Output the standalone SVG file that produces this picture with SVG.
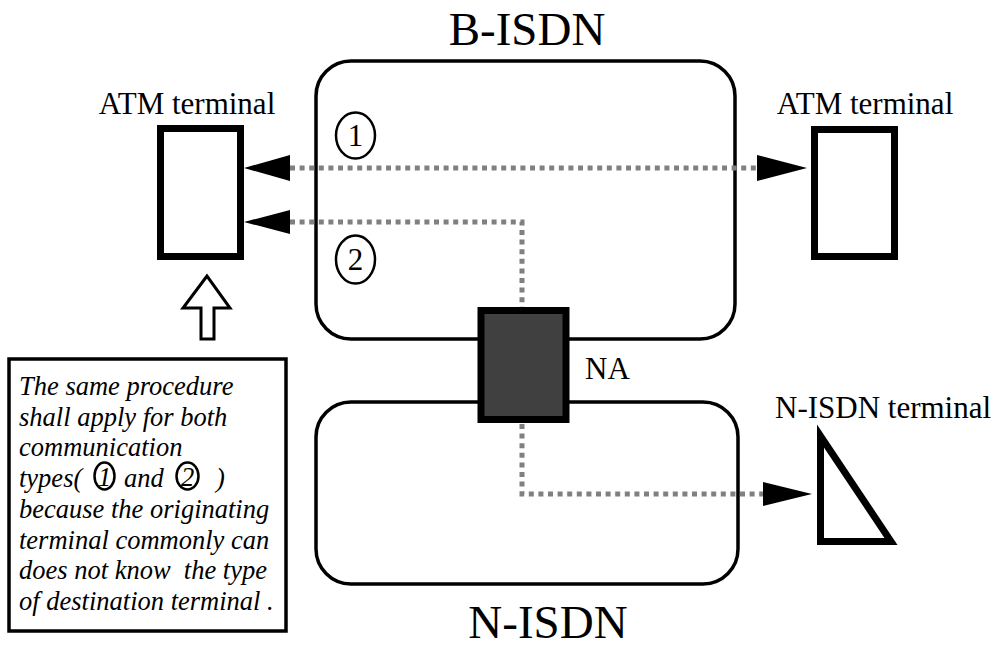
<svg xmlns="http://www.w3.org/2000/svg" width="1003" height="648" viewBox="0 0 1003 648">
<defs>
<style>
text{font-family:"Liberation Serif","Times New Roman",serif;fill:#000}
.lbl{font-size:31px}
.big{font-size:47px}
.note{font-size:26.5px;font-style:italic}
.net{fill:none;stroke:#000;stroke-width:3.5}
.term{fill:#fff;stroke:#000;stroke-width:7}
.dot{fill:none;stroke:#808080;stroke-width:5;stroke-dasharray:5 4.6}
.circ{fill:none;stroke:#000;stroke-width:2.5}
</style>
</defs>
<rect width="1003" height="648" fill="#fff"/>
<g id="b-isdn">
<rect class="net" x="316" y="61" width="419" height="278" rx="35" ry="35"/>
<text class="big" x="527" y="45" text-anchor="middle">B-ISDN</text>
</g>
<g id="n-isdn">
<rect class="net" x="316" y="402" width="422" height="182" rx="35" ry="35"/>
<text class="big" x="548" y="638" text-anchor="middle">N-ISDN</text>
</g>
<g id="atm-left">
<rect class="term" x="160.5" y="128.5" width="80" height="128"/>
<text class="lbl" x="187" y="114" text-anchor="middle">ATM terminal</text>
</g>
<g id="atm-right">
<rect class="term" x="814.5" y="129.5" width="80" height="127"/>
<text class="lbl" x="865" y="114" text-anchor="middle">ATM terminal</text>
</g>
<g id="n-isdn-terminal">
<polygon class="term" points="820.5,436 820.5,541.5 891,541.5" stroke-linejoin="miter"/>
<text class="lbl" x="775" y="418">N-ISDN terminal</text>
</g>
<g id="connectors">
<line class="dot" x1="290" y1="168" x2="757" y2="168"/>
<polygon points="244,168 290,155 290,181" fill="#000"/>
<polygon points="807,168 757,155 757,181" fill="#000"/>
<polyline class="dot" points="290,222 522,222 522,307"/>
<polygon points="244,222 290,210 290,234" fill="#000"/>
<polyline class="dot" points="522,424 522,494 763,494"/>
<polygon points="812,494 763,482 763,506" fill="#000"/>
</g>
<g id="na">
<rect x="481" y="310.5" width="85" height="109" fill="#404040" stroke="#000" stroke-width="7"/>
<text class="lbl" x="585" y="379">NA</text>
</g>
<g id="label-1">
<ellipse class="circ" cx="355.5" cy="135.5" rx="19.5" ry="23"/>
<text class="lbl" x="355.5" y="146" text-anchor="middle">1</text>
</g>
<g id="label-2">
<ellipse class="circ" cx="355.5" cy="259.5" rx="19.5" ry="24"/>
<text class="lbl" x="355.5" y="270" text-anchor="middle">2</text>
</g>
<g id="up-arrow">
<polygon points="207,276 183,308 201,308 201,339 214,339 214,308 230,308" fill="#fff" stroke="#000" stroke-width="3"/>
</g>
<g id="note">
<rect x="9" y="359" width="277" height="272" fill="#fff" stroke="#000" stroke-width="3.5"/>
<text class="note" x="19" y="395">The same procedure</text>
<text class="note" x="19" y="425.7">shall apply for both</text>
<text class="note" x="19" y="456.4">communication</text>
<text class="note" x="19" y="487">types(</text>
<ellipse class="circ" cx="104.5" cy="476" rx="10" ry="13.5" stroke-width="2"/>
<text class="note" x="104.5" y="486" text-anchor="middle" font-size="24">1</text>
<text class="note" x="124" y="487">and</text>
<ellipse class="circ" cx="187.5" cy="476" rx="11" ry="13.5" stroke-width="2"/>
<text class="note" x="187.5" y="486" text-anchor="middle" font-size="24">2</text>
<text class="note" x="216" y="487">)</text>
<text class="note" x="19" y="517.8">because the originating</text>
<text class="note" x="19" y="548.5">terminal commonly can</text>
<text class="note" x="19" y="579.2" xml:space="preserve">does not know  the type</text>
<text class="note" x="19" y="610">of destination terminal .</text>
</g>
</svg>
